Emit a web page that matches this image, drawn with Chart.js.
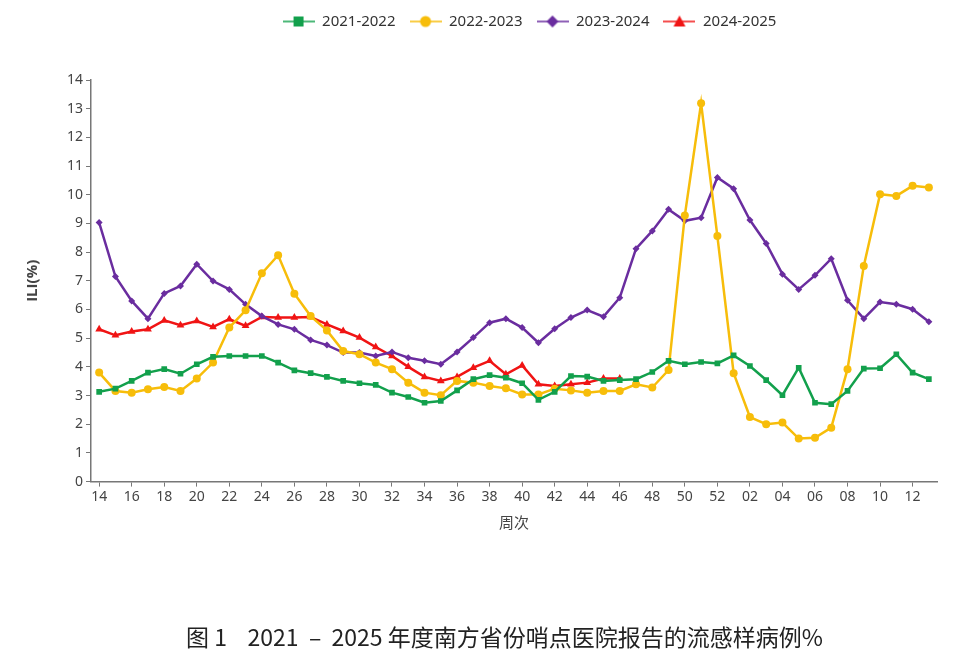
<!DOCTYPE html>
<html>
<head>
<meta charset="utf-8">
<script src="https://cdn.jsdelivr.net/npm/chart.js@4.4.1/dist/chart.umd.min.js"></script>
<style>
  html, body { margin: 0; padding: 0; background: #fff; }
  #wrap { width: 960px; height: 661px; position: relative; }
</style>
</head>
<body>
<div id="wrap"><canvas id="myChart" width="960" height="661"></canvas></div>
<script>
// weeks: 14..52 then 01..13
const weeks = ['14','15','16','17','18','19','20','21','22','23','24','25','26','27','28','29','30',
  '31','32','33','34','35','36','37','38','39','40','41','42','43','44','45','46','47','48','49',
  '50','51','52','01','02','03','04','05','06','07','08','09','10','11','12','13'];

const seriesNames = ['2021-2022', '2022-2023', '2023-2024', '2024-2025'];

const ili2122 = [3.13, 3.24, 3.51, 3.80, 3.92, 3.76, 4.09, 4.35, 4.38, 4.38, 4.38, 4.15, 3.88, 3.78, 3.65, 3.51, 3.43,
  3.37, 3.10, 2.95, 2.75, 2.81, 3.18, 3.57, 3.71, 3.62, 3.43, 2.85, 3.13, 3.68, 3.66, 3.51, 3.54, 3.57, 3.82, 4.21,
  4.09, 4.17, 4.12, 4.40, 4.03, 3.54, 3.01, 3.97, 2.75, 2.70, 3.16, 3.94, 3.95, 4.44, 3.80, 3.57];

const ili2223 = [3.80, 3.16, 3.10, 3.22, 3.30, 3.16, 3.59, 4.15, 5.37, 5.97, 7.26, 7.89, 6.55, 5.77, 5.27, 4.55, 4.44,
  4.15, 3.92, 3.45, 3.10, 3.01, 3.51, 3.45, 3.33, 3.25, 3.04, 3.04, 3.24, 3.18, 3.10, 3.16, 3.16, 3.39, 3.28, 3.89,
  9.28, 13.19, 8.56, 3.78, 2.25, 2.00, 2.06, 1.50, 1.53, 1.88, 3.92, 7.52, 10.02, 9.96, 10.31, 10.25];

const ili2324 = [9.03, 7.15, 6.30, 5.68, 6.56, 6.82, 7.58, 6.99, 6.70, 6.18, 5.77, 5.48, 5.31, 4.94, 4.76, 4.50, 4.50,
  4.38, 4.52, 4.32, 4.21, 4.09, 4.52, 5.02, 5.54, 5.68, 5.37, 4.84, 5.33, 5.72, 5.98, 5.75, 6.41, 8.12, 8.74, 9.49,
  9.09, 9.20, 10.60, 10.21, 9.12, 8.30, 7.23, 6.70, 7.19, 7.77, 6.32, 5.68, 6.26, 6.18, 6.01, 5.57];

// 2024-2025 only reported up to week 46
const ili2425 = [5.31, 5.10, 5.23, 5.31, 5.62, 5.45, 5.60, 5.39, 5.66, 5.43, 5.74, 5.72, 5.72, 5.74, 5.48, 5.25, 5.02,
  4.69, 4.38, 4.00, 3.65, 3.51, 3.65, 3.97, 4.21, 3.74, 4.05, 3.39, 3.33, 3.39, 3.45, 3.59, 3.59,
  null, null, null, null, null, null, null, null, null, null, null, null, null, null, null, null, null, null, null];

const colors = ['#12a04c', '#f7bd0a', '#6a2d9f', '#f01414'];
const markers = ['rect', 'circle', 'rectRot', 'triangle'];
const radii = [4, 4, 3.5, 4.5];

// legend icon: short line with the marker on it
function legendIcon(color, style) {
  const c = document.createElement('canvas');
  c.width = 32; c.height = 14;
  const g = c.getContext('2d');
  g.strokeStyle = color;
  g.lineWidth = 1.5;
  g.beginPath(); g.moveTo(0, 7); g.lineTo(32, 7); g.stroke();
  g.fillStyle = color;
  g.beginPath();
  if (style === 'rect') g.rect(11, 2, 10, 10);
  else if (style === 'circle') g.arc(16, 7, 5.5, 0, Math.PI * 2);
  else if (style === 'rectRot') { g.moveTo(16, 1); g.lineTo(22, 7); g.lineTo(16, 13); g.lineTo(10, 7); g.closePath(); }
  else { g.moveTo(16, 1); g.lineTo(22, 12); g.lineTo(10, 12); g.closePath(); }
  g.fill();
  return c;
}

const allData = [ili2122, ili2223, ili2324, ili2425];

// move legend / caption to where the figure has them, more room under legend
const layoutTweak = {
  id: 'layoutTweak',
  beforeInit(chart) {
    const origFit = chart.legend.fit;
    chart.legend.fit = function () {
      origFit.bind(chart.legend)();
      this.height += 41;
    };
  },
  afterLayout(chart) {
    chart.legend.left += 49;
    chart.legend.right += 49;
    chart.titleBlock.left += 24;
    chart.titleBlock.right += 24;
  }
};

const ctx = document.getElementById('myChart').getContext('2d');
const myChart = new Chart(ctx, {
  type: 'line',
  data: {
    labels: weeks,
    datasets: allData.map((d, i) => ({
      label: seriesNames[i],
      data: d,
      borderColor: colors[i],
      backgroundColor: colors[i],
      borderWidth: 2.5,
      pointStyle: markers[i],
      pointRadius: radii[i],
      pointBorderWidth: 0,
      tension: 0,
      spanGaps: false
    }))
  },
  options: {
    responsive: false,
    animation: false,
    layout: { padding: { left: 24, right: 23, top: 0, bottom: 6 } },
    plugins: {
      legend: {
        position: 'top',
        labels: {
          usePointStyle: true,
          pointStyleWidth: 32,
          padding: 14,
          color: '#333',
          font: { family: 'Noto Sans', size: 15 },
          generateLabels(chart) {
            return chart.data.datasets.map((ds, i) => ({
              text: ds.label,
              pointStyle: legendIcon(colors[i], markers[i]),
              fillStyle: colors[i],
              strokeStyle: colors[i],
              lineWidth: 0,
              fontColor: '#333',
              datasetIndex: i
            }));
          }
        }
      },
      title: {
        display: true,
        position: 'bottom',
        text: '图 1    2021  –  2025 年度南方省份哨点医院报告的流感样病例%',
        color: '#222',
        font: { family: 'Noto Sans CJK SC', size: 23, weight: 'normal' },
        padding: { top: 92, bottom: 4 }
      },
      tooltip: { enabled: false }
    },
    scales: {
      x: {
        type: 'category',
        offset: true,
        grid: { display: true, offset: false, drawOnChartArea: false, drawTicks: true, tickLength: 5, color: '#777' },
        border: { display: true, color: '#777', width: 1.5 },
        ticks: {
          autoSkip: false,
          maxRotation: 0,
          padding: 2,
          color: '#444',
          font: { family: 'Noto Sans', size: 14 },
          callback: function (v, i) { return i % 2 === 0 ? this.getLabelForValue(v) : null; }
        },
        title: {
          display: true,
          text: '周次',
          color: '#444',
          font: { family: 'Noto Sans CJK SC', size: 15 },
          padding: { top: 6, bottom: 0 }
        }
      },
      y: {
        min: 0,
        max: 14,
        grid: { display: true, drawOnChartArea: false, drawTicks: true, tickLength: 5, color: '#777' },
        border: { display: true, color: '#777', width: 1.5 },
        ticks: {
          stepSize: 1,
          padding: 3,
          color: '#444',
          font: { family: 'Noto Sans', size: 14 }
        },
        title: {
          display: true,
          text: 'ILI(%)',
          color: '#444',
          font: { family: 'Open Sans', size: 15, weight: 'bold' },
          padding: { top: 0, bottom: 22 }
        }
      }
    }
  },
  plugins: [layoutTweak]
});
</script>
</body>
</html>
